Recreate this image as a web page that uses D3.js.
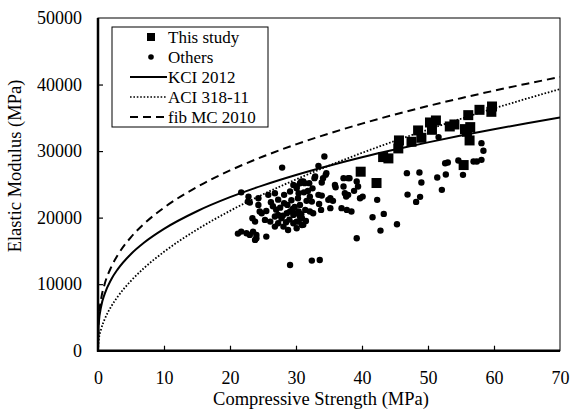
<!DOCTYPE html>
<html>
<head>
<meta charset="utf-8">
<script src="https://cdn.jsdelivr.net/npm/d3@7/dist/d3.min.js"></script>
<style>
  html, body { margin: 0; padding: 0; background: #fff; }
  svg { display: block; }
  svg text { font-family: "Liberation Serif", Tinos, "Times New Roman", Times, serif !important; fill: #000; }
</style>
</head>
<body>
<svg id="chart" width="570" height="411"></svg>
<script>
// ---- Data ----
const xTicks = [0, 10, 20, 30, 40, 50, 60, 70];
const yTicks = [0, 10000, 20000, 30000, 40000, 50000];
const xTitle = "Compressive Strength (MPa)";
const yTitle = "Elastic Modulus (MPa)";
const legendLabels = ["This study", "Others", "KCI 2012", "ACI 318-11", "fib MC 2010"];

const curveX   = [0, 0.1, 0.5, 1, 2, 3, 5, 7, 10, 15, 20, 25, 30, 35, 40, 45, 50, 55, 60, 65, 70];
const kciVals  = [0, 3950, 6750, 8500, 10710, 12260, 14540, 16260, 18310, 20960, 23070, 24850, 26410, 27800, 29070, 30230, 31310, 32330, 33280, 34180, 35030];
const aciVals  = [0, 1490, 3320, 4700, 6650, 8140, 10510, 12440, 14860, 18200, 21020, 23500, 25740, 27810, 29730, 31530, 33230, 34860, 36410, 37890, 39320];
const fibVals  = [0, 4630, 7920, 9980, 12570, 14390, 17070, 19090, 21500, 24610, 27090, 29180, 31010, 32640, 34130, 35500, 36770, 37950, 39070, 40130, 41130];

// This study (squares): [fc, Ec]
const thisStudy = [
  [39.8, 26900], [42.2, 25200], [43.2, 29100], [44.0, 28900], [45.6, 31600],
  [45.5, 30400], [47.5, 31400], [48.5, 33100], [49.0, 32000], [50.3, 34300],
  [50.6, 33200], [51.2, 34600], [53.3, 33700], [54.0, 34000], [55.4, 27900],
  [55.6, 33300], [55.9, 32900], [56.1, 35400], [56.4, 33600], [56.3, 31600],
  [57.8, 36200], [59.7, 36700], [59.6, 35900]
];

// Others (dots): [fc, Ec]
const others = [
  [21.2, 17600], [21.7, 17900], [21.7, 23800], [22.5, 17650], [23.0, 17400],
  [24.0, 17400], [23.8, 16650], [25.5, 17150], [23.5, 17900], [24.0, 16900],
  [22.8, 23160], [22.7, 22410], [24.3, 22920], [23.0, 22260], [24.3, 21910],
  [25.8, 23420], [26.8, 23670], [28.2, 23420],
  [24.5, 20910], [24.8, 20660], [23.4, 19910], [23.8, 19400], [25.3, 19660], [26.1, 19400],
  [26.8, 20160], [27.3, 20410], [27.8, 19910],
  [28.6, 20660], [29.1, 20910], [29.6, 20410], [30.1, 20660], [30.6, 20160], [30.1, 19400],
  [27.3, 19160], [28.1, 18650], [28.8, 18150], [26.8, 18650],
  [29.6, 19160], [30.1, 18400], [30.9, 18900],
  [26.5, 21700], [27.0, 21200], [27.6, 21500], [26.2, 22300], [27.3, 22700],
  [25.5, 21000], [29.3, 22600], [29.8, 21600], [30.3, 22900], [31.8, 24000],
  [32.5, 24400], [31.2, 23800], [28.0, 20300], [29.0, 19700], [29.5, 21300],
  [30.8, 20500], [31.5, 19500], [28.5, 19300],
  [29.1, 12890], [27.9, 27520],
  [29.6, 24920], [30.1, 24670], [30.6, 25170], [31.1, 25420], [29.1, 23920],
  [28.2, 22170], [28.7, 21910],
  [30.6, 21910], [30.4, 20910], [30.9, 19910], [30.4, 19400], [31.1, 18910],
  [30.4, 23670], [30.1, 24420],
  [30.8, 25420], [31.3, 25180], [32.0, 25180], [32.8, 25930],
  [34.3, 29180], [33.4, 27780], [34.5, 26430], [34.1, 25930],
  [36.0, 24570], [37.2, 24670], [38.1, 25930], [37.4, 23680], [37.9, 23420],
  [37.6, 23160], [38.8, 24020], [39.7, 22920],
  [33.9, 25270], [33.9, 23310], [33.4, 23420], [34.9, 22670], [35.2, 22920], [35.6, 22520],
  [32.1, 23160], [32.4, 22410], [31.6, 22520],
  [33.5, 22060], [33.8, 21160],
  [36.9, 21420], [37.7, 21160], [38.4, 20910], [35.2, 21420],
  [32.1, 20910], [32.6, 20660], [31.4, 21160],
  [41.6, 20060], [39.2, 16900],
  [32.4, 13540], [33.6, 13640],
  [32.9, 26170], [34.6, 26680], [35.9, 24920], [37.2, 25930], [37.9, 25930],
  [39.2, 25420], [39.4, 24670],
  [40.1, 23160], [42.3, 22670], [43.3, 20560],
  [45.3, 19010], [42.8, 18050],
  [46.8, 26680], [48.7, 26770], [49.0, 25270], [51.4, 26020], [52.7, 26470],
  [52.6, 28180], [53.0, 28280], [55.3, 26430], [52.1, 24170], [46.9, 23460],
  [48.8, 23120], [48.2, 22360],
  [58.1, 31190], [58.4, 30040], [58.1, 28680], [56.9, 28430], [57.4, 28430],
  [54.6, 28580], [51.6, 32100]
];

// ---- Layout ----
const plot = { left: 98, top: 18, right: 560, bottom: 350.7 };
const FONT = "'Liberation Serif', Tinos, 'Times New Roman', Times, serif";

const svg = d3.select("#chart");
const x = d3.scaleLinear().domain([0, 70]).range([plot.left, plot.right]);
const y = d3.scaleLinear().domain([0, 50000]).range([plot.bottom, plot.top]);

svg.append("defs").append("clipPath").attr("id", "clip")
  .append("rect")
  .attr("x", plot.left).attr("y", plot.top)
  .attr("width", plot.right - plot.left).attr("height", plot.bottom - plot.top);

// frame (top/right thin)
svg.append("rect")
  .attr("x", plot.left).attr("y", plot.top)
  .attr("width", plot.right - plot.left).attr("height", plot.bottom - plot.top)
  .attr("fill", "none").attr("stroke", "#000").attr("stroke-width", 1);

// axes
const xAxis = d3.axisBottom(x).tickValues(xTicks).tickSize(-5).tickPadding(21).tickFormat(d3.format("d"));
const yAxis = d3.axisLeft(y).tickValues(yTicks).tickSize(-5).tickPadding(16).tickFormat(d3.format("d"));

const gx = svg.append("g").attr("transform", `translate(0,${plot.bottom})`).call(xAxis);
const gy = svg.append("g").attr("transform", `translate(${plot.left},0)`).call(yAxis);
[gx, gy].forEach(g => {
  g.attr("font-family", FONT);
  g.select(".domain").remove();
  g.selectAll(".tick line").attr("stroke", "#000").attr("stroke-width", 1.2);
  g.selectAll(".tick text").attr("font-family", FONT).style("font-size", "18px").attr("fill", "#000");
});
gx.selectAll(".tick").filter(d => d === 0 || d === 70).select("line").remove();
gy.selectAll(".tick").filter(d => d === 0 || d === 50000).select("line").remove();

// thick left & bottom axis lines
svg.append("line").attr("x1", plot.left).attr("x2", plot.left).attr("y1", plot.top).attr("y2", plot.bottom + 1)
  .attr("stroke", "#000").attr("stroke-width", 2.5);
svg.append("line").attr("x1", plot.left - 1).attr("x2", plot.right).attr("y1", plot.bottom).attr("y2", plot.bottom)
  .attr("stroke", "#000").attr("stroke-width", 2.5);

// axis titles
svg.append("text").attr("x", 321).attr("y", 405)
  .attr("text-anchor", "middle").attr("font-family", FONT).style("font-size", "18.5px").text(xTitle);
svg.append("text").attr("transform", `translate(21,166) rotate(-90)`)
  .attr("text-anchor", "middle").attr("font-family", FONT).style("font-size", "18.5px").text(yTitle);

// curves
const lineGen = vals => d3.line()
  .x((d, i) => x(curveX[i]))
  .y(d => y(d))
  .curve(d3.curveMonotoneX)(vals);

const curves = svg.append("g").attr("clip-path", "url(#clip)");
curves.append("path").attr("d", lineGen(kciVals)).attr("fill", "none").attr("stroke", "#000").attr("stroke-width", 2);
curves.append("path").attr("d", lineGen(aciVals)).attr("fill", "none").attr("stroke", "#000").attr("stroke-width", 1.8)
  .attr("stroke-dasharray", "1.6,1.8");
curves.append("path").attr("d", lineGen(fibVals)).attr("fill", "none").attr("stroke", "#000").attr("stroke-width", 2)
  .attr("stroke-dasharray", "8,5");

// points
const pts = svg.append("g").attr("clip-path", "url(#clip)");
pts.selectAll("circle.other").data(others).enter().append("circle")
  .attr("class", "other")
  .attr("cx", d => x(d[0])).attr("cy", d => y(d[1])).attr("r", 3.2).attr("fill", "#000");
const sq = 10;
pts.selectAll("rect.study").data(thisStudy).enter().append("rect")
  .attr("class", "study")
  .attr("x", d => x(d[0]) - sq / 2).attr("y", d => y(d[1]) - sq / 2)
  .attr("width", sq).attr("height", sq).attr("fill", "#000");

// legend
const lg = svg.append("g");
lg.append("rect").attr("x", 112).attr("y", 27).attr("width", 156).attr("height", 100)
  .attr("fill", "#fff").attr("stroke", "#000").attr("stroke-width", 1);
const rowY = i => 37 + i * 20;
const symX = 151, lineX1 = 130, lineX2 = 167, textX = 168;
lg.append("rect").attr("x", symX - 4).attr("y", rowY(0) - 4).attr("width", 8).attr("height", 8).attr("fill", "#000");
lg.append("circle").attr("cx", symX).attr("cy", rowY(1)).attr("r", 2.8).attr("fill", "#000");
lg.append("line").attr("x1", lineX1).attr("x2", lineX2).attr("y1", rowY(2)).attr("y2", rowY(2))
  .attr("stroke", "#000").attr("stroke-width", 2);
lg.append("line").attr("x1", lineX1).attr("x2", lineX2).attr("y1", rowY(3)).attr("y2", rowY(3))
  .attr("stroke", "#000").attr("stroke-width", 1.6).attr("stroke-dasharray", "1.6,1.8");
lg.append("line").attr("x1", lineX1).attr("x2", lineX2).attr("y1", rowY(4)).attr("y2", rowY(4))
  .attr("stroke", "#000").attr("stroke-width", 2).attr("stroke-dasharray", "8,5");
legendLabels.forEach((t, i) => {
  lg.append("text").attr("x", textX).attr("y", rowY(i)).attr("dy", "0.35em")
    .attr("font-family", FONT).style("font-size", "17px").text(t);
});
</script>
</body>
</html>
